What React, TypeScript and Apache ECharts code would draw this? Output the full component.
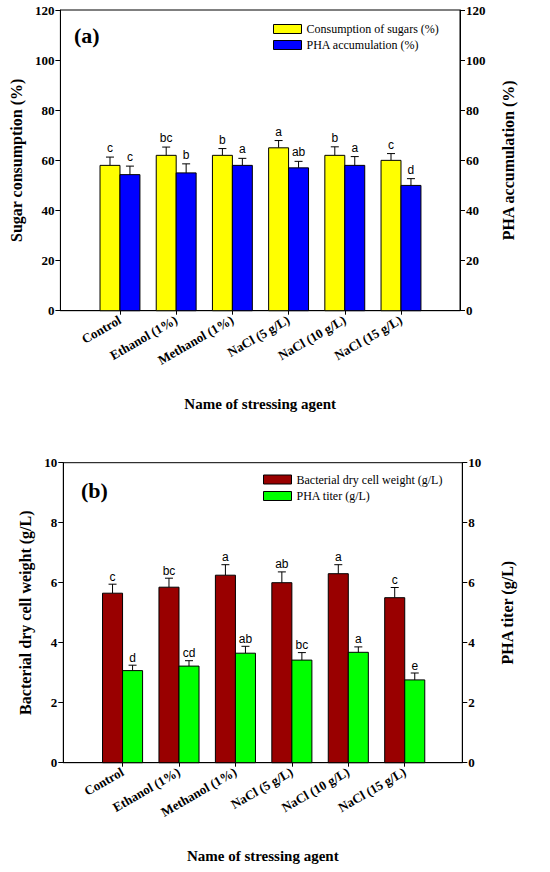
import React, { useEffect, useRef } from "react";
import * as echarts from "echarts";

const categories = ["Control", "Ethanol (1%)", "Methanol (1%)", "NaCl (5 g/L)", "NaCl (10 g/L)", "NaCl (15 g/L)"];

const sugarConsumption = [58, 62, 62, 65, 62, 60];
const sugarErr = [3.3, 3.3, 2.7, 2.9, 3.4, 2.7];
const sugarLetters = ["c", "bc", "b", "a", "b", "c"];

const phaAccum = [54.3, 55, 58, 57, 58, 50];
const phaAccumErr = [3.4, 3.6, 2.8, 2.6, 3.5, 2.7];
const phaAccumLetters = ["c", "b", "a", "ab", "a", "d"];

const dcw = [5.65, 5.85, 6.25, 6.0, 6.3, 5.5];
const dcwErr = [0.3, 0.3, 0.35, 0.36, 0.3, 0.34];
const dcwLetters = ["c", "bc", "a", "ab", "a", "c"];

const phaTiter = [3.07, 3.22, 3.65, 3.42, 3.68, 2.76];
const phaTiterErr = [0.18, 0.18, 0.23, 0.25, 0.18, 0.23];
const phaTiterLetters = ["d", "cd", "ab", "bc", "a", "e"];

const topYTicks = [0, 20, 40, 60, 80, 100, 120];
const bottomYTicks = [0, 2, 4, 6, 8, 10];

const SERIF = "'Liberation Serif', 'Times New Roman', serif";
const SANS = "'Liberation Sans', Arial, sans-serif";

function makeSeries(
  name: string,
  values: number[],
  errs: number[],
  letters: string[],
  color: string,
  side: number,
  xAxisIndex: number,
  yAxisIndex: number,
  letterGap: number
) {
  return {
    type: "custom",
    name,
    xAxisIndex,
    yAxisIndex,
    itemStyle: { color, borderColor: "#000", borderWidth: 1 },
    data: values.map((v, i) => [i, v, errs[i]]),
    renderItem: (params: any, api: any) => {
      const i = api.value(0);
      const v = api.value(1);
      const e = api.value(2);
      const base = api.coord([i, 0]);
      const top = api.coord([i, v]);
      const et = api.coord([i, v + e]);
      const band = api.size([1, 0])[0];
      const w = band * 0.355;
      const x0 = side < 0 ? base[0] - w : base[0];
      const cx = x0 + w / 2;
      return {
        type: "group",
        children: [
          {
            type: "line",
            shape: { x1: cx, y1: top[1], x2: cx, y2: et[1] },
            style: { stroke: "#000", lineWidth: 1 },
          },
          {
            type: "line",
            shape: { x1: cx - 4, y1: et[1], x2: cx + 4, y2: et[1] },
            style: { stroke: "#000", lineWidth: 1 },
          },
          {
            type: "rect",
            shape: { x: x0, y: top[1], width: w, height: base[1] - top[1] },
            style: { fill: color, stroke: "#000", lineWidth: 1 },
          },
          {
            type: "text",
            x: cx,
            y: et[1] - letterGap,
            style: {
              text: letters[params.dataIndex],
              fill: "#000",
              align: "center",
              verticalAlign: "bottom",
              textAlign: "center",
              textVerticalAlign: "bottom",
              fontSize: 12,
              fontFamily: SANS,
            },
          },
        ],
      };
    },
  };
}

function xAxisFor(gridIndex: number, min: number, max: number) {
  const idx = categories.map((_, i) => i);
  return {
    type: "value",
    gridIndex,
    min,
    max,
    splitLine: { show: false },
    axisLine: { show: true, onZero: false, lineStyle: { color: "#000", width: 1 } },
    axisTick: { show: true, customValues: idx, length: 4, lineStyle: { color: "#000" } },
    axisLabel: {
      show: true,
      customValues: idx,
      rotate: 30,
      margin: 8,
      color: "#000",
      fontFamily: SERIF,
      fontWeight: "bold",
      fontSize: 13,
      formatter: (v: number) => categories[Math.round(v)] ?? "",
    },
    name: "Name of stressing agent",
    nameLocation: "middle",
    nameGap: 86,
    nameTextStyle: { color: "#000", fontFamily: SERIF, fontWeight: "bold", fontSize: 15 },
  };
}

function yAxisFor(gridIndex: number, position: string, max: number, interval: number, name: string, nameGap: number) {
  return {
    type: "value",
    gridIndex,
    position,
    min: 0,
    max,
    interval,
    splitLine: { show: false },
    axisLine: { show: true, onZero: false, lineStyle: { color: "#000", width: 1 } },
    axisTick: { show: true, inside: false, length: 5, lineStyle: { color: "#000" } },
    axisLabel: {
      color: "#000",
      fontFamily: SERIF,
      fontWeight: "bold",
      fontSize: 13,
      margin: 6,
    },
    name,
    nameLocation: "middle",
    nameRotate: 90,
    nameGap,
    nameTextStyle: { color: "#000", fontFamily: SERIF, fontWeight: "bold", fontSize: 16 },
  };
}

export default function App() {
  const ref = useRef<HTMLDivElement>(null);
  useEffect(() => {
    if (!ref.current) return;
    const chart = echarts.init(ref.current, undefined, { renderer: "svg" });
    const option: any = {
      animation: false,
      backgroundColor: "#fff",
      grid: [
        { left: 58.3, top: 10, width: 401.7, height: 300.7, show: true, borderColor: "#000", borderWidth: 1, backgroundColor: "transparent" },
        { left: 63.3, top: 462.7, width: 399, height: 300, show: true, borderColor: "#000", borderWidth: 1, backgroundColor: "transparent" },
      ],
      xAxis: [xAxisFor(0, -1.06, 6.05), xAxisFor(1, -1.05, 6.02)],
      yAxis: [
        yAxisFor(0, "left", topYTicks[topYTicks.length - 1], topYTicks[1] - topYTicks[0], "Sugar consumption (%)", 35),
        yAxisFor(0, "right", topYTicks[topYTicks.length - 1], topYTicks[1] - topYTicks[0], "PHA accumulation (%)", 40),
        yAxisFor(1, "left", bottomYTicks[bottomYTicks.length - 1], bottomYTicks[1] - bottomYTicks[0], "Bacterial dry cell weight (g/L)", 30),
        yAxisFor(1, "right", bottomYTicks[bottomYTicks.length - 1], bottomYTicks[1] - bottomYTicks[0], "PHA titer (g/L)", 37),
      ],
      legend: [
        {
          left: 268,
          top: 18,
          orient: "vertical",
          selectedMode: false,
          itemWidth: 28,
          itemHeight: 9,
          itemGap: 4,
          textStyle: { color: "#000", fontFamily: SERIF, fontSize: 12, lineHeight: 12 },
          data: [
            { name: "Consumption of sugars (%)", icon: "rect", itemStyle: { color: "#FFFF00", borderColor: "#000", borderWidth: 1 } },
            { name: "PHA accumulation (%)", icon: "rect", itemStyle: { color: "#0000FF", borderColor: "#000", borderWidth: 1 } },
          ],
        },
        {
          left: 258,
          top: 468.5,
          orient: "vertical",
          selectedMode: false,
          itemWidth: 28,
          itemHeight: 9,
          itemGap: 4.5,
          textStyle: { color: "#000", fontFamily: SERIF, fontSize: 12, lineHeight: 12 },
          data: [
            { name: "Bacterial dry cell weight (g/L)", icon: "rect", itemStyle: { color: "#990000", borderColor: "#000", borderWidth: 1 } },
            { name: "PHA titer (g/L)", icon: "rect", itemStyle: { color: "#00FF00", borderColor: "#000", borderWidth: 1 } },
          ],
        },
      ],
      graphic: [
        { type: "text", left: 74, top: 24, style: { text: "(a)", fill: "#000", font: `bold 22px ${SERIF}` } },
        { type: "text", left: 81, top: 479, style: { text: "(b)", fill: "#000", font: `bold 22px ${SERIF}` } },
      ],
      series: [
        makeSeries("Consumption of sugars (%)", sugarConsumption, sugarErr, sugarLetters, "#FFFF00", -1, 0, 0, 3),
        makeSeries("PHA accumulation (%)", phaAccum, phaAccumErr, phaAccumLetters, "#0000FF", 1, 0, 1, 3),
        makeSeries("Bacterial dry cell weight (g/L)", dcw, dcwErr, dcwLetters, "#990000", -1, 1, 2, 1.5),
        makeSeries("PHA titer (g/L)", phaTiter, phaTiterErr, phaTiterLetters, "#00FF00", 1, 1, 3, 1.5),
      ],
    };
    chart.setOption(option);
    return () => chart.dispose();
  }, []);
  return (
    <div
      ref={ref}
      style={{ position: "fixed", left: 0, top: 0, width: 550, height: 872, background: "#fff" }}
    />
  );
}
